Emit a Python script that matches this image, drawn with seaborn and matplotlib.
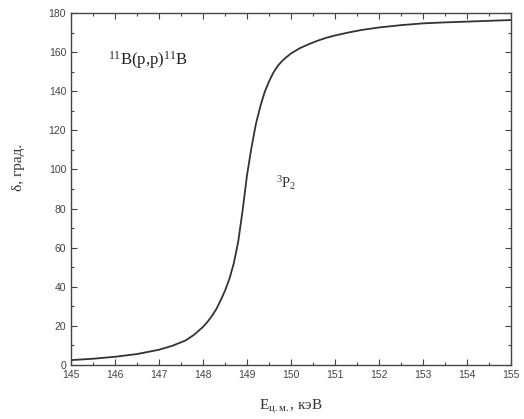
import matplotlib
matplotlib.use("Agg")
import matplotlib.pyplot as plt
import seaborn as sns
import pandas as pd
from matplotlib.ticker import MultipleLocator

energy = [145, 145.5, 146, 146.5, 147, 147.3, 147.6, 147.8, 148.0, 148.1,
          148.2, 148.3, 148.4, 148.5, 148.6, 148.7, 148.8, 148.9, 149.0, 149.1,
          149.2, 149.3, 149.4, 149.5, 149.6, 149.7, 149.8, 149.9, 150.0, 150.2,
          150.4, 150.6, 150.8, 151.0, 151.3, 151.6, 152, 152.5, 153, 153.5,
          154, 154.5, 155]
phase = [2.5, 3.2, 4.2, 5.6, 7.8, 9.8, 12.5, 15.5, 19.5, 22,
         25, 28.5, 33, 38, 44, 52, 63, 79, 97, 111,
         123, 132, 139.5, 145, 149.5, 153, 155.5, 157.5, 159.3, 162,
         164, 165.8, 167.3, 168.5, 170, 171.3, 172.6, 173.8, 174.7, 175.2,
         175.6, 176, 176.4]

xticks = list(range(145, 156))
yticks = list(range(0, 181, 20))

sns.set_theme(style="ticks")
plt.rcParams['font.family'] = ['Liberation Sans', 'DejaVu Sans']
plt.rcParams['mathtext.fontset'] = 'custom'
plt.rcParams['mathtext.rm'] = 'Liberation Serif'
plt.rcParams['mathtext.it'] = 'Liberation Serif:italic'

df = pd.DataFrame({"E": energy, "delta": phase})

fig = plt.figure(figsize=(5.24, 4.19), dpi=100)
ax = fig.add_axes([71/524, 1 - 365/419, 440/524, 352/419])
sns.lineplot(data=df, x="E", y="delta", ax=ax, color="#333333", linewidth=1.3)

ax.set_xlim(145, 155)
ax.set_ylim(0, 180)
ax.set_xticks(xticks)
ax.set_yticks(yticks)
ax.xaxis.set_minor_locator(MultipleLocator(0.5))
ax.yaxis.set_minor_locator(MultipleLocator(10))
ax.tick_params(which="both", direction="in", top=True, right=True,
               colors="#444444", labelsize=7.5, width=0.8)
ax.tick_params(which="major", length=4)
ax.tick_params(which="minor", length=2)
for s in ax.spines.values():
    s.set_color("#444444")
    s.set_linewidth(1.0)

serif = ['Liberation Serif', 'DejaVu Serif']
ax.set_xlabel(r"E$_{\mathrm{ц.м.}}$, кэВ", family=serif, fontsize=11, color="#333333")
ax.set_ylabel("δ, град.", family=serif, fontsize=11, color="#333333")
ax.xaxis.set_label_coords(0.5, -0.095)
ax.yaxis.set_label_coords(-0.105, 0.56)

ax.text(145.85, 156, "$^{11}$B(p,p)$^{11}$B", family=serif, fontsize=12,
        color="#222222", va="center", ha="left")
ax.text(149.65, 93, "$^{3}$P$_{2}$", family=serif, fontsize=10.5,
        color="#333333", va="center", ha="left")

fig.savefig("out.png", dpi=100)
